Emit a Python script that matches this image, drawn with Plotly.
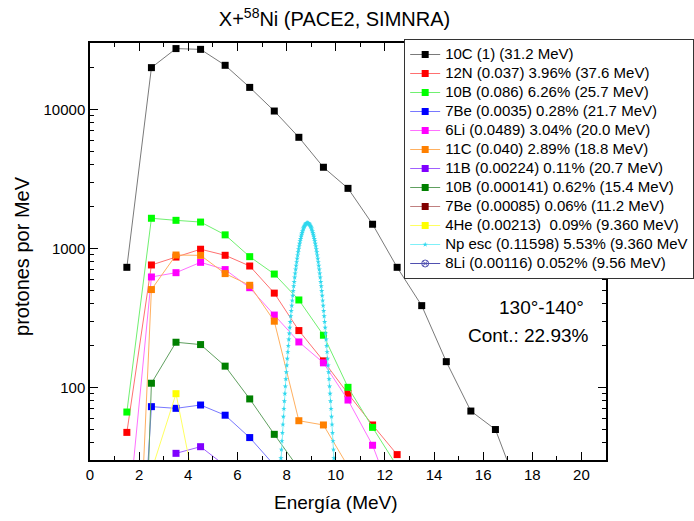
import numpy as np
import plotly.graph_objects as go

# ---- data ----
x_10C = [1.5, 2.5, 3.5, 4.5, 5.5, 6.5, 7.5, 8.5, 9.5, 10.5, 11.5, 12.5, 13.5, 14.5, 15.5, 16.5, 17.5]
y_10C = [730, 19950, 27350, 27000, 20730, 14380, 9720, 6290, 3830, 2700, 1490, 730, 387, 153, 67.5, 49.7, 17]

x_12N = [1.5, 2.5, 3.5, 4.5, 5.5, 6.5, 7.5, 8.5, 9.5, 10.5, 11.5, 12.5]
y_12N = [47.4, 759, 865, 985, 891, 746, 476, 256, 155, 90, 53.6, 32.8]

x_10B = [1.5, 2.5, 3.5, 4.5, 5.5, 6.5, 7.5, 8.5, 9.5, 10.5, 11.5, 12.5]
y_10B = [66.4, 1645, 1590, 1545, 1250, 871, 653, 425, 237, 100, 51.5, 27]

x_7Be = [1.5, 2.5, 3.5, 4.5, 5.5, 6.5, 7.5]
y_7Be = [0.1, 72.6, 70.6, 74.6, 63, 43.5, 27.5]

x_6Li = [1.5, 2.5, 3.5, 4.5, 5.5, 6.5, 7.5, 8.5, 9.5, 10.5, 11.5, 12.5]
y_6Li = [9.2, 622, 668, 793, 703, 521, 331, 212, 150, 81, 38.3, 13]

x_11C = [1.5, 2.5, 3.5, 4.5, 5.5, 6.5, 7.5, 8.5, 9.5, 10.5]
y_11C = [0.06, 505, 895, 890, 658, 542, 299, 57.5, 53.6, 27]

x_11B = [3.5, 4.5, 5.5]
y_11B = [33.5, 37.4, 27.3]

x_10Bb = [1.5, 2.5, 3.5, 4.5, 5.5, 6.5, 7.5, 8.5]
y_10Bb = [0.001, 107, 211, 203, 142, 82.5, 45.9, 26]

# no visible points inside the plotted range
x_7Beb = [None]
y_7Beb = [None]

x_4He = [2.5, 3.5, 4.5]
y_4He = [25, 90, 11.7]

x_np = list(np.round(np.arange(7.69, 10.0101, 0.02), 2))
y_np = [17.0, 19.8, 23.1, 26.8, 30.9, 35.7, 41.1, 47.1, 54.0, 61.6, 70.1, 79.6, 90.1,
        101.7, 114.6, 128.7, 144, 161, 179.5, 199, 221, 244, 269, 296, 325, 355, 387,
        421, 457, 494, 534, 574, 617, 660, 705, 750, 797, 844, 891, 939, 986, 1034,
        1080, 1126, 1170, 1213, 1254, 1293, 1330, 1365, 1396, 1424, 1449, 1471, 1488,
        1503, 1513, 1519, 1521,
        1519, 1513, 1503, 1488, 1471, 1449, 1424, 1396, 1365, 1330, 1293, 1254, 1213,
        1170, 1126, 1080, 1034, 986, 939, 891, 844, 797, 750, 705, 660, 617, 574, 534,
        494, 457, 421, 387, 355, 325, 296, 269, 244, 221, 199, 179.5, 161, 144, 128.7,
        114.6, 101.7, 90.1, 79.6, 70.1, 61.6, 54.0, 47.1, 41.1, 35.7, 30.9, 26.8, 23.1,
        19.8, 17.0]

x_8Li = [None]
y_8Li = [None]

names = [
    "10C (1) (31.2 MeV)",
    "12N (0.037) 3.96% (37.6 MeV)",
    "10B (0.086) 6.26% (25.7 MeV)",
    "7Be (0.0035) 0.28% (21.7 MeV)",
    "6Li (0.0489) 3.04% (20.0 MeV)",
    "11C (0.040) 2.89% (18.8 MeV)",
    "11B (0.00224) 0.11% (20.7 MeV)",
    "10B (0.000141) 0.62% (15.4 MeV)",
    "7Be (0.00085) 0.06% (11.2 MeV)",
    "4He (0.00213)\u00a0 0.09% (9.360 MeV)",
    "Np esc (0.11598) 5.53% (9.360 MeV",
    "8Li (0.00116) 0.052% (9.56 MeV)",
]

series = [
    (x_10C, y_10C, "#000000", "#7a7a7a"),
    (x_12N, y_12N, "#ff0000", "#ff7070"),
    (x_10B, y_10B, "#00ff00", "#70f070"),
    (x_7Be, y_7Be, "#0000ff", "#7878ff"),
    (x_6Li, y_6Li, "#ff00ff", "#ff70ff"),
    (x_11C, y_11C, "#ff8000", "#ffb060"),
    (x_11B, y_11B, "#8000ff", "#a060ff"),
    (x_10Bb, y_10Bb, "#008000", "#60a060"),
    (x_7Beb, y_7Beb, "#800000", "#c08080"),
    (x_4He, y_4He, "#ffff00", "#ffff60"),
]

LEG = "<span style='font-size:15px'>%s</span>"

fig = go.Figure()
for (xs, ys, mc, lc), nm in zip(series, names[:10]):
    fig.add_trace(go.Scatter(
        x=xs, y=ys, name=LEG % nm, mode="lines+markers",
        line=dict(color=lc, width=1),
        marker=dict(color=mc, size=7, symbol="square", line=dict(width=0)),
    ))

fig.add_trace(go.Scatter(
    x=x_np, y=y_np, name=LEG % names[10], mode="lines+markers",
    line=dict(color="#7ff0f8", width=1),
    marker=dict(color="#30d8ee", size=4, symbol="star", line=dict(width=0)),
))
fig.add_trace(go.Scatter(
    x=x_8Li, y=y_8Li, name=LEG % names[11], mode="lines+markers",
    line=dict(color="#5050b0", width=1),
    marker=dict(color="#5050b0", size=7, symbol="circle-x-open", line=dict(width=1)),
))

font = "Liberation Sans, Arial, sans-serif"
PW = 515.7   # plot width in px
PH = 417.0   # plot height in px
fig.update_layout(
    width=694, height=521,
    margin=dict(l=90, r=88, t=43, b=61, autoexpand=False),
    paper_bgcolor="white", plot_bgcolor="white",
    font=dict(family=font, color="black", size=13),
    showlegend=True,
    title=dict(text="X+<sup>58</sup>Ni (PACE2, SIMNRA)", x=334.5 / 694, xanchor="center",
               y=1 - 19 / 521, yanchor="middle", font=dict(size=20, family=font)),
    legend=dict(x=(404 - 90) / PW, y=(460 - 39) / PH, xanchor="left", yanchor="top",
                bgcolor="white", bordercolor="#333333", borderwidth=1,
                font=dict(size=12.3, family=font), tracegroupgap=0,
                itemwidth=30),
)
fig.update_xaxes(
    range=[0, 21], dtick=2, tick0=0, showgrid=False, zeroline=False,
    showline=True, linecolor="black", linewidth=1.5, mirror="allticks",
    ticks="inside", ticklen=8, tickwidth=1.2, tickcolor="black",
    minor=dict(ticks="inside", ticklen=4, dtick=1, tickcolor="black", showgrid=False),
    tickfont=dict(size=15),
)
fig.update_yaxes(
    type="log", range=[np.log10(30), np.log10(30000)], dtick=1, tickformat="d",
    showgrid=False, zeroline=False, exponentformat="none",
    showline=True, linecolor="black", linewidth=1.5, mirror="allticks",
    ticks="inside", ticklen=8, tickwidth=1.2, tickcolor="black",
    minor=dict(ticks="inside", ticklen=4, dtick="D1", tickcolor="black", showgrid=False),
    tickfont=dict(size=15),
)
# axis titles
fig.add_annotation(text="Energía (MeV)", x=(336 - 90) / PW, y=(460 - 502) / PH,
                   xref="paper", yref="paper", xanchor="center", yanchor="middle",
                   showarrow=False, font=dict(size=19, family=font))
fig.add_annotation(text="protones por MeV", x=(22 - 90) / PW, y=(460 - 256) / PH,
                   xref="paper", yref="paper", xanchor="center", yanchor="middle",
                   textangle=-90, showarrow=False, font=dict(size=20, family=font))
# in-plot labels
fig.add_annotation(text="130°-140°", x=(541 - 90) / PW, y=(460 - 307) / PH,
                   xref="paper", yref="paper", xanchor="center", yanchor="middle",
                   showarrow=False, font=dict(size=19, family=font))
fig.add_annotation(text="Cont.: 22.93%", x=(528 - 90) / PW, y=(460 - 335) / PH,
                   xref="paper", yref="paper", xanchor="center", yanchor="middle",
                   showarrow=False, font=dict(size=19, family=font))

fig.write_html("out.html")
